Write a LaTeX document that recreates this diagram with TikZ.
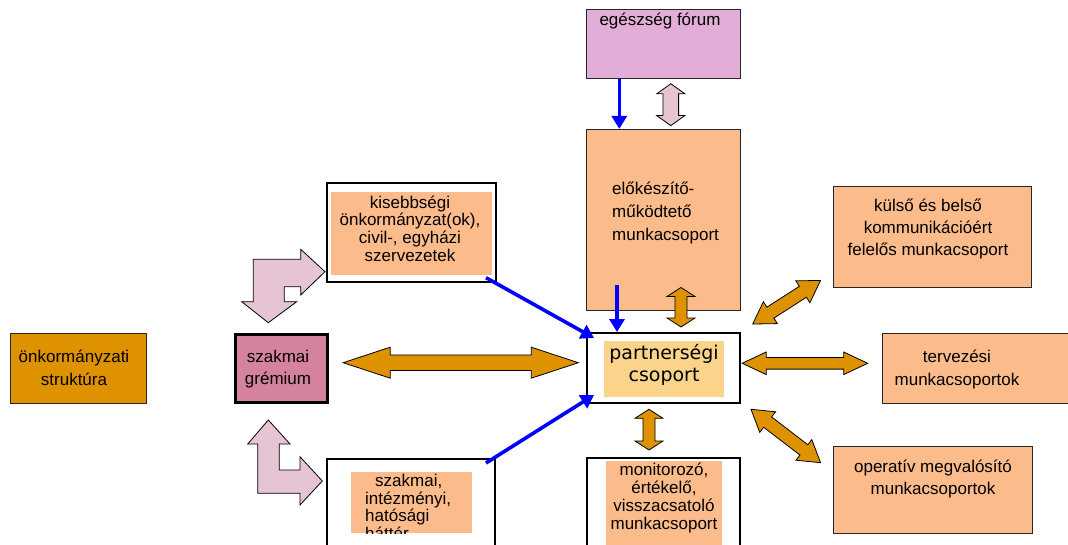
\documentclass[tikz,border=0pt]{standalone}
\usepackage{fontspec}
\setmainfont{Liberation Sans}
\newfontfamily\comicf{DejaVu Sans}
\usetikzlibrary{calc,arrows.meta}
\definecolor{peach}{HTML}{FBBB8B}
\definecolor{forumc}{HTML}{E2AED8}
\definecolor{gremc}{HTML}{D5829E}
\definecolor{orangec}{HTML}{DF9200}
\definecolor{pinkarr}{HTML}{E6C4D4}
\definecolor{partc}{HTML}{F9D48A}
\newcommand\blockarrow[6]{%
  \coordinate (ba-a) at (#1); \coordinate (ba-b) at (#2);
  \coordinate (ba-pa) at ($(ba-a)!#5!(ba-b)$);
  \coordinate (ba-pb) at ($(ba-b)!#5!(ba-a)$);
  \draw[#6] (ba-a) -- ($(ba-pa)!#4!90:(ba-b)$) -- ($(ba-pa)!#3!90:(ba-b)$)
    -- ($(ba-pb)!#3!-90:(ba-a)$) -- ($(ba-pb)!#4!-90:(ba-a)$) -- (ba-b)
    -- ($(ba-pb)!#4!90:(ba-a)$) -- ($(ba-pb)!#3!90:(ba-a)$)
    -- ($(ba-pa)!#3!-90:(ba-b)$) -- ($(ba-pa)!#4!-90:(ba-b)$) -- cycle;
}
\tikzset{
  peachbox/.style={draw=black!85, line width=0.9pt, fill=peach, inner sep=0pt},
  innerbox/.style={draw=none, fill=peach, inner sep=0pt},
  whitebox/.style={draw=black, line width=2pt, fill=white, inner sep=0pt},
  txt/.style={font=\fontsize{17}{#1}\selectfont, align=center, inner sep=0pt},
  txt/.default=20,
  orangearrow/.style={draw=black, line width=0.8pt, fill=orangec, line join=miter},
  pinkarrow/.style={draw=black, line width=0.8pt, fill=pinkarr, line join=miter},
  bluearrow/.style={draw=blue, line width=3.6pt, -{Triangle[length=13pt,width=15pt]}},
}
\begin{document}
\begin{tikzpicture}[x=1pt,y=-1pt]
\useasboundingbox (0,0) rectangle (1068,545);
\clip (0,0) rectangle (1068,545);

% egeszseg forum
\node[peachbox, fill=forumc, minimum width=153.3pt, minimum height=69pt] (forum) at (663.3,43.8) {};
\node[txt] (forumtxt) at (660,21) {egészség fórum};

% elokeszito
\node[peachbox, minimum width=154pt, minimum height=180.7pt] (elo) at (663,219.7) {};
\node[txt=23, align=left, anchor=west] (elotxt) at (612,213) {előkészítő-\\működtető\\munkacsoport};

% kisebbsegi
\node[whitebox, minimum width=169pt, minimum height=99pt] (kis) at (411.5,232.2) {};
\node[innerbox, minimum width=160.5pt, minimum height=83.3pt] (kisin) at (411.7,233.3) {};
\node[txt=17.7] (kistxt) at (410,228.5) {kisebbségi\\önkormányzat(ok),\\civil-, egyházi\\szervezetek};

% szakmai gremium
\node[draw=black, line width=3pt, fill=gremc, minimum width=92pt, minimum height=68pt, inner sep=0pt] (grem) at (281,368) {};
\node[txt=21.7] (gremtxt) at (278,369) {szakmai\\grémium};

% onkormanyzati struktura
\node[peachbox, fill=orangec, minimum width=136pt, minimum height=70pt] (onk) at (78,368) {};
\node[txt=22.7] (onktxt) at (74,368) {önkormányzati\\struktúra};

% partnersegi csoport
\node[whitebox, minimum width=153pt, minimum height=70pt] (partner) at (663.5,368) {};
\node[innerbox, fill=partc, minimum width=120pt, minimum height=56pt] (partnerin) at (664,369) {};
\node[font=\comicf\fontsize{19}{21.7}\selectfont, align=center, inner sep=0pt] (partnertxt) at (664,365) {partnerségi\\csoport};

% monitorozo
\node[whitebox, anchor=north, minimum width=153pt, minimum height=110pt] (mon) at (663.5,457) {};
\node[innerbox, anchor=north, minimum width=116pt, minimum height=100pt] (monin) at (664,461) {};
\node[txt=17.7] (montxt) at (664,498) {monitorozó,\\értékelő,\\visszacsatoló\\munkacsoport};

% szakmai hatter
\node[whitebox, anchor=north, minimum width=168pt, minimum height=110pt] (hat) at (411,458) {};
\node[innerbox, minimum width=121pt, minimum height=61.3pt] (hatin) at (411.5,502.7) {};
\begin{scope}
  \clip (hatin.south west) rectangle (hatin.north east);
  \node[txt=17.7, align=left, anchor=north west] (hattxt) at (365,474) {\hspace{10pt}szakmai,\\intézményi,\\hatósági\\háttér};
\end{scope}

% kulso es belso
\node[peachbox, minimum width=198pt, minimum height=101pt] (kulso) at (932,236.5) {};
\node[txt=22] (kulsotxt) at (928,229) {külső és belső\\kommunikációért\\felelős munkacsoport};

% tervezesi
\node[peachbox, anchor=west, minimum width=200pt, minimum height=70pt] (terv) at (882,368) {};
\node[txt=23] (tervtxt) at (957,369.5) {tervezési\\munkacsoportok};

% operativ
\node[peachbox, minimum width=199pt, minimum height=87pt] (oper) at (932.5,489.5) {};
\node[txt=22] (opertxt) at (933,479.5) {operatív megvalósító\\munkacsoportok};

% blue arrows
\draw[bluearrow] (619.3,0 |- forum.south) -- (619.3,0 |- elo.north);
\coordinate (elob) at ($(elo.south)+(-46,-25)$);
\draw[bluearrow] (elob) -- (elob |- partner.north);
\coordinate (kisb) at ($(kis.south east)+(-11,-5)$);
\coordinate (parta) at ($(partner.west)+(8,-30)$);
\draw[bluearrow] (kisb) -- (parta);
\coordinate (hatb) at ($(hat.north east)+(-10,5)$);
\coordinate (partb) at ($(partner.west)+(8,27)$);
\draw[bluearrow] (hatb) -- (partb);

% pink arrows
\blockarrow{$(forum.south)+(7.5,5)$}{$(elo.north)+(7.8,-3.3)$}{7.8pt}{14pt}{10pt}{pinkarrow}
\draw[pinkarrow] (253.3,259.3) -- (300.7,259.3) -- (300.7,249.3) -- (325,271.7) -- (300.7,295)
  -- (300.7,286.7) -- (284.3,286.7) -- (284.3,301.7) -- (296.7,301.7) -- (268.3,322.7)
  -- (241.7,301.7) -- (253.3,301.7) -- cycle;
\draw[pinkarrow] (268.3,420) -- (290,444) -- (279.3,444) -- (279.3,470) -- (300,470)
  -- (300,456.7) -- (322.3,481) -- (300,505) -- (300,493.3) -- (257.7,493.3)
  -- (257.7,444) -- (247.7,444) -- cycle;

% orange arrows
\coordinate (ga) at ($(grem.east)+(14.7,-5.3)$);
\coordinate (pa) at ($(partner.west)+(-7.7,-5.3)$);
\blockarrow{ga}{pa}{7.8pt}{15.5pt}{47pt}{orangearrow}
\coordinate (pt1) at ($(partner.east)+(1.2,-4.7)$);
\coordinate (tv1) at ($(terv.west)+(-14.3,-4.7)$);
\blockarrow{pt1}{tv1}{5.8pt}{11.3pt}{24pt}{orangearrow}
\coordinate (el1) at ($(elo.south)+(18,-23)$);
\coordinate (pn1) at ($(partner.north)+(17.5,-5)$);
\blockarrow{el1}{pn1}{6pt}{14pt}{9pt}{orangearrow}
\coordinate (pn2) at ($(partner.south)+(-14.5,5.3)$);
\coordinate (mn1) at ($(mon.north)+(-14.5,-7)$);
\blockarrow{pn2}{mn1}{6pt}{14pt}{9pt}{orangearrow}
\coordinate (pk) at ($(partner.north east)+(11.7,-8)$);
\coordinate (kk) at ($(kulso.south west)+(-12,-7)$);
\blockarrow{pk}{kk}{6.5pt}{13pt}{21pt}{orangearrow}
\coordinate (po) at ($(partner.south east)+(10,5.3)$);
\coordinate (oo) at ($(oper.west)+(-12,-26.8)$);
\blockarrow{po}{oo}{6.5pt}{13pt}{21pt}{orangearrow}
\end{tikzpicture}
\end{document}
